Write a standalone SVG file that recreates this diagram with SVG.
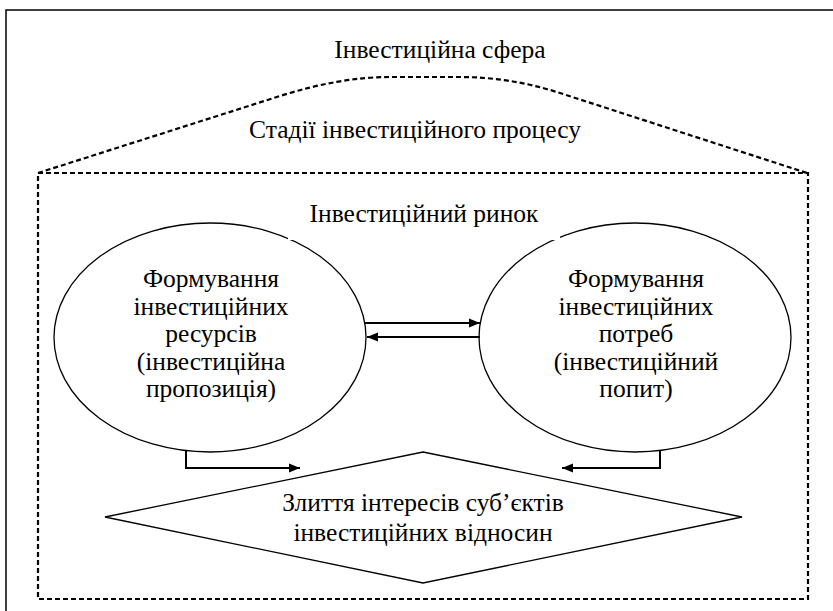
<svg xmlns="http://www.w3.org/2000/svg" width="833" height="611" viewBox="0 0 833 611">
<defs>
<style>
text{font-family:'Liberation Serif','DejaVu Serif',serif;font-size:25.5px;fill:#000;text-anchor:middle}
.shape{fill:#fff;stroke:#000;stroke-width:1.3}
.dash{fill:none;stroke:#000;stroke-width:2.2;stroke-dasharray:5 3}
.conn{fill:none;stroke:#000;stroke-width:2}
</style>
<marker id="ah" markerUnits="userSpaceOnUse" markerWidth="12" markerHeight="10" refX="11" refY="5" orient="auto">
<path d="M0,0.5 L11,5 L0,9.5 z" fill="#000"/>
</marker>
</defs>
<rect width="833" height="611" fill="#fff"/>
<path id="outer" d="M6,620 V10 H840" fill="none" stroke="#000" stroke-width="1.5"/>
<g id="sphere" font-family="Liberation Serif, serif">
<text x="440" y="58">Інвестиційна сфера</text>
</g>
<g id="stages" font-family="Liberation Serif, serif">
<path class="dash" d="M38,173 L280,96 Q340,77 390,77 L460,77 Q510,77 560,93 L807,173"/>
<rect class="dash" x="38" y="173" width="770" height="426"/>
<text x="415" y="138">Стадії інвестиційного процесу</text>
</g>
<g id="resources" font-family="Liberation Serif, serif">
<ellipse class="shape" cx="210" cy="337.5" rx="156" ry="114.5"/>
<text x="211" y="287">Формування</text>
<text x="211" y="314.5">інвестиційних</text>
<text x="211" y="342">ресурсів</text>
<text x="211" y="369.5">(інвестиційна</text>
<text x="211" y="397">пропозиція)</text>
</g>
<g id="needs" font-family="Liberation Serif, serif">
<ellipse class="shape" cx="635" cy="337.5" rx="156" ry="114.5"/>
<text x="636" y="287">Формування</text>
<text x="636" y="314.5">інвестиційних</text>
<text x="636" y="342">потреб</text>
<text x="636" y="369.5">(інвестиційний</text>
<text x="636" y="397">попит)</text>
</g>
<g id="market" font-family="Liberation Serif, serif">
<rect x="288" y="195" width="272" height="45" fill="#fff"/>
<text x="424" y="222">Інвестиційний ринок</text>
</g>
<g id="merge" font-family="Liberation Serif, serif">
<polygon class="shape" points="423,452 742,517 423,583 105,517"/>
<text x="423" y="511">Злиття інтересів суб’єктів</text>
<text x="423" y="541">інвестиційних відносин</text>
</g>
<g id="connectors">
<line class="conn" x1="365" y1="323" x2="480" y2="323" marker-end="url(#ah)"/>
<line class="conn" x1="480" y1="337" x2="367" y2="337" marker-end="url(#ah)"/>
<path class="conn" d="M186,450 V468 H300" marker-end="url(#ah)"/>
<path class="conn" d="M660,450 V468 H562" marker-end="url(#ah)"/>
</g>
</svg>
